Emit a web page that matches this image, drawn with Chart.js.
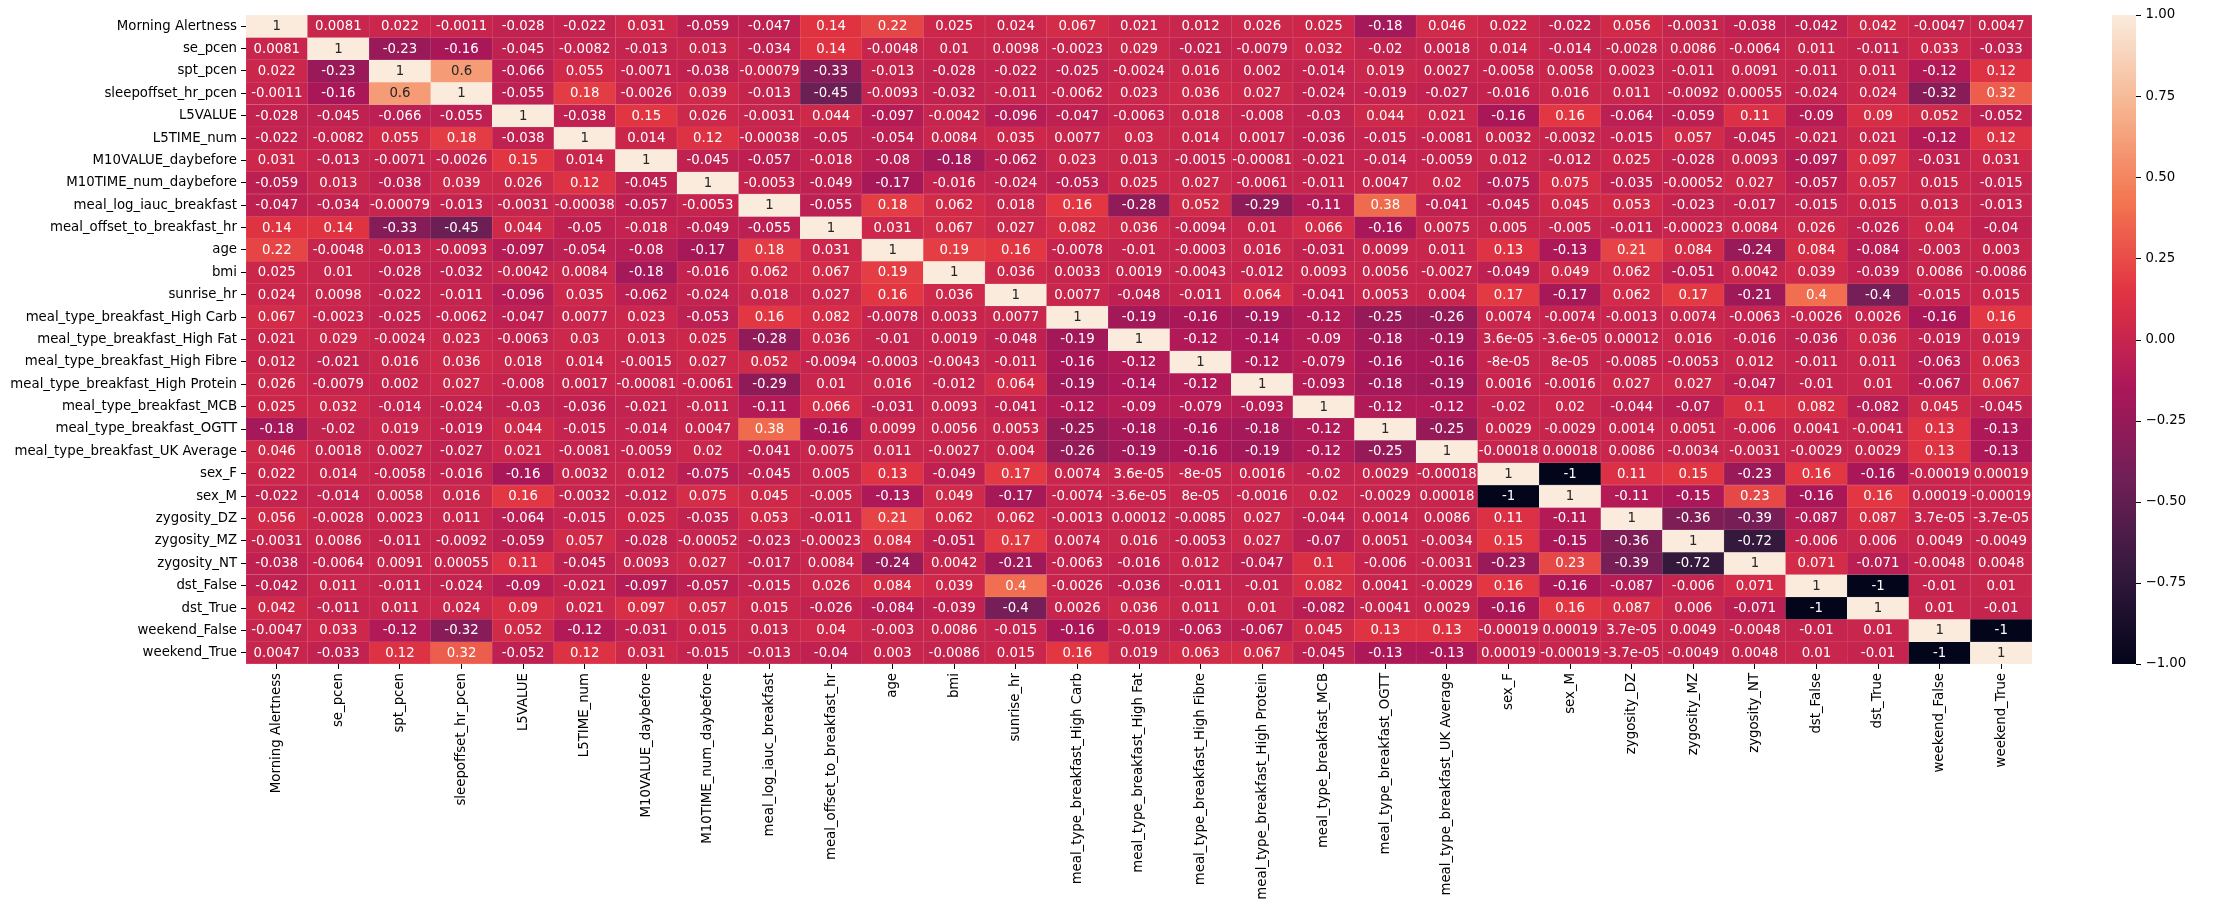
<!DOCTYPE html>
<html>
<head>
<meta charset="utf-8">
<script src="https://cdn.jsdelivr.net/npm/chart.js@4/dist/chart.umd.min.js"></script>
<style>
  html, body { margin: 0; padding: 0; background: #ffffff; }
  #c { display: block; }
</style>
</head>
<body>
<canvas id="c" width="2236" height="913" style="width:2236px;height:913px"></canvas>
<script>
// ---------------- DATA ----------------
const variables = [
  "Morning Alertness", "se_pcen", "spt_pcen", "sleepoffset_hr_pcen", "L5VALUE", "L5TIME_num",
  "M10VALUE_daybefore", "M10TIME_num_daybefore", "meal_log_iauc_breakfast", "meal_offset_to_breakfast_hr",
  "age", "bmi", "sunrise_hr", "meal_type_breakfast_High Carb", "meal_type_breakfast_High Fat",
  "meal_type_breakfast_High Fibre", "meal_type_breakfast_High Protein", "meal_type_breakfast_MCB",
  "meal_type_breakfast_OGTT", "meal_type_breakfast_UK Average", "sex_F", "sex_M", "zygosity_DZ",
  "zygosity_MZ", "zygosity_NT", "dst_False", "dst_True", "weekend_False", "weekend_True"
];

const morningAlertness = [1, 0.0081, 0.022, -0.0011, -0.028, -0.022, 0.031, -0.059, -0.047, 0.14, 0.22, 0.025, 0.024, 0.067, 0.021, 0.012, 0.026, 0.025, -0.18, 0.046, 0.022, -0.022, 0.056, -0.0031, -0.038, -0.042, 0.042, -0.0047, 0.0047];
const sePcen = [0.0081, 1, -0.23, -0.16, -0.045, -0.0082, -0.013, 0.013, -0.034, 0.14, -0.0048, 0.01, 0.0098, -0.0023, 0.029, -0.021, -0.0079, 0.032, -0.02, 0.0018, 0.014, -0.014, -0.0028, 0.0086, -0.0064, 0.011, -0.011, 0.033, -0.033];
const sptPcen = [0.022, -0.23, 1, 0.6, -0.066, 0.055, -0.0071, -0.038, -0.00079, -0.33, -0.013, -0.028, -0.022, -0.025, -0.0024, 0.016, 0.002, -0.014, 0.019, 0.0027, -0.0058, 0.0058, 0.0023, -0.011, 0.0091, -0.011, 0.011, -0.12, 0.12];
const sleepoffsetHrPcen = [-0.0011, -0.16, 0.6, 1, -0.055, 0.18, -0.0026, 0.039, -0.013, -0.45, -0.0093, -0.032, -0.011, -0.0062, 0.023, 0.036, 0.027, -0.024, -0.019, -0.027, -0.016, 0.016, 0.011, -0.0092, 0.00055, -0.024, 0.024, -0.32, 0.32];
const l5Value = [-0.028, -0.045, -0.066, -0.055, 1, -0.038, 0.15, 0.026, -0.0031, 0.044, -0.097, -0.0042, -0.096, -0.047, -0.0063, 0.018, -0.008, -0.03, 0.044, 0.021, -0.16, 0.16, -0.064, -0.059, 0.11, -0.09, 0.09, 0.052, -0.052];
const l5TimeNum = [-0.022, -0.0082, 0.055, 0.18, -0.038, 1, 0.014, 0.12, -0.00038, -0.05, -0.054, 0.0084, 0.035, 0.0077, 0.03, 0.014, 0.0017, -0.036, -0.015, -0.0081, 0.0032, -0.0032, -0.015, 0.057, -0.045, -0.021, 0.021, -0.12, 0.12];
const m10ValueDaybefore = [0.031, -0.013, -0.0071, -0.0026, 0.15, 0.014, 1, -0.045, -0.057, -0.018, -0.08, -0.18, -0.062, 0.023, 0.013, -0.0015, -0.00081, -0.021, -0.014, -0.0059, 0.012, -0.012, 0.025, -0.028, 0.0093, -0.097, 0.097, -0.031, 0.031];
const m10TimeNumDaybefore = [-0.059, 0.013, -0.038, 0.039, 0.026, 0.12, -0.045, 1, -0.0053, -0.049, -0.17, -0.016, -0.024, -0.053, 0.025, 0.027, -0.0061, -0.011, 0.0047, 0.02, -0.075, 0.075, -0.035, -0.00052, 0.027, -0.057, 0.057, 0.015, -0.015];
const mealLogIaucBreakfast = [-0.047, -0.034, -0.00079, -0.013, -0.0031, -0.00038, -0.057, -0.0053, 1, -0.055, 0.18, 0.062, 0.018, 0.16, -0.28, 0.052, -0.29, -0.11, 0.38, -0.041, -0.045, 0.045, 0.053, -0.023, -0.017, -0.015, 0.015, 0.013, -0.013];
const mealOffsetToBreakfastHr = [0.14, 0.14, -0.33, -0.45, 0.044, -0.05, -0.018, -0.049, -0.055, 1, 0.031, 0.067, 0.027, 0.082, 0.036, -0.0094, 0.01, 0.066, -0.16, 0.0075, 0.005, -0.005, -0.011, -0.00023, 0.0084, 0.026, -0.026, 0.04, -0.04];
const age = [0.22, -0.0048, -0.013, -0.0093, -0.097, -0.054, -0.08, -0.17, 0.18, 0.031, 1, 0.19, 0.16, -0.0078, -0.01, -0.0003, 0.016, -0.031, 0.0099, 0.011, 0.13, -0.13, 0.21, 0.084, -0.24, 0.084, -0.084, -0.003, 0.003];
const bmi = [0.025, 0.01, -0.028, -0.032, -0.0042, 0.0084, -0.18, -0.016, 0.062, 0.067, 0.19, 1, 0.036, 0.0033, 0.0019, -0.0043, -0.012, 0.0093, 0.0056, -0.0027, -0.049, 0.049, 0.062, -0.051, 0.0042, 0.039, -0.039, 0.0086, -0.0086];
const sunriseHr = [0.024, 0.0098, -0.022, -0.011, -0.096, 0.035, -0.062, -0.024, 0.018, 0.027, 0.16, 0.036, 1, 0.0077, -0.048, -0.011, 0.064, -0.041, 0.0053, 0.004, 0.17, -0.17, 0.062, 0.17, -0.21, 0.4, -0.4, -0.015, 0.015];
const highCarb = [0.067, -0.0023, -0.025, -0.0062, -0.047, 0.0077, 0.023, -0.053, 0.16, 0.082, -0.0078, 0.0033, 0.0077, 1, -0.19, -0.16, -0.19, -0.12, -0.25, -0.26, 0.0074, -0.0074, -0.0013, 0.0074, -0.0063, -0.0026, 0.0026, -0.16, 0.16];
const highFat = [0.021, 0.029, -0.0024, 0.023, -0.0063, 0.03, 0.013, 0.025, -0.28, 0.036, -0.01, 0.0019, -0.048, -0.19, 1, -0.12, -0.14, -0.09, -0.18, -0.19, 3.6e-05, -3.6e-05, 0.00012, 0.016, -0.016, -0.036, 0.036, -0.019, 0.019];
const highFibre = [0.012, -0.021, 0.016, 0.036, 0.018, 0.014, -0.0015, 0.027, 0.052, -0.0094, -0.0003, -0.0043, -0.011, -0.16, -0.12, 1, -0.12, -0.079, -0.16, -0.16, -8e-05, 8e-05, -0.0085, -0.0053, 0.012, -0.011, 0.011, -0.063, 0.063];
const highProtein = [0.026, -0.0079, 0.002, 0.027, -0.008, 0.0017, -0.00081, -0.0061, -0.29, 0.01, 0.016, -0.012, 0.064, -0.19, -0.14, -0.12, 1, -0.093, -0.18, -0.19, 0.0016, -0.0016, 0.027, 0.027, -0.047, -0.01, 0.01, -0.067, 0.067];
const mcb = [0.025, 0.032, -0.014, -0.024, -0.03, -0.036, -0.021, -0.011, -0.11, 0.066, -0.031, 0.0093, -0.041, -0.12, -0.09, -0.079, -0.093, 1, -0.12, -0.12, -0.02, 0.02, -0.044, -0.07, 0.1, 0.082, -0.082, 0.045, -0.045];
const ogtt = [-0.18, -0.02, 0.019, -0.019, 0.044, -0.015, -0.014, 0.0047, 0.38, -0.16, 0.0099, 0.0056, 0.0053, -0.25, -0.18, -0.16, -0.18, -0.12, 1, -0.25, 0.0029, -0.0029, 0.0014, 0.0051, -0.006, 0.0041, -0.0041, 0.13, -0.13];
const ukAverage = [0.046, 0.0018, 0.0027, -0.027, 0.021, -0.0081, -0.0059, 0.02, -0.041, 0.0075, 0.011, -0.0027, 0.004, -0.26, -0.19, -0.16, -0.19, -0.12, -0.25, 1, -0.00018, 0.00018, 0.0086, -0.0034, -0.0031, -0.0029, 0.0029, 0.13, -0.13];
const sexF = [0.022, 0.014, -0.0058, -0.016, -0.16, 0.0032, 0.012, -0.075, -0.045, 0.005, 0.13, -0.049, 0.17, 0.0074, 3.6e-05, -8e-05, 0.0016, -0.02, 0.0029, -0.00018, 1, -1, 0.11, 0.15, -0.23, 0.16, -0.16, -0.00019, 0.00019];
const sexM = [-0.022, -0.014, 0.0058, 0.016, 0.16, -0.0032, -0.012, 0.075, 0.045, -0.005, -0.13, 0.049, -0.17, -0.0074, -3.6e-05, 8e-05, -0.0016, 0.02, -0.0029, 0.00018, -1, 1, -0.11, -0.15, 0.23, -0.16, 0.16, 0.00019, -0.00019];
const zygosityDZ = [0.056, -0.0028, 0.0023, 0.011, -0.064, -0.015, 0.025, -0.035, 0.053, -0.011, 0.21, 0.062, 0.062, -0.0013, 0.00012, -0.0085, 0.027, -0.044, 0.0014, 0.0086, 0.11, -0.11, 1, -0.36, -0.39, -0.087, 0.087, 3.7e-05, -3.7e-05];
const zygosityMZ = [-0.0031, 0.0086, -0.011, -0.0092, -0.059, 0.057, -0.028, -0.00052, -0.023, -0.00023, 0.084, -0.051, 0.17, 0.0074, 0.016, -0.0053, 0.027, -0.07, 0.0051, -0.0034, 0.15, -0.15, -0.36, 1, -0.72, -0.006, 0.006, 0.0049, -0.0049];
const zygosityNT = [-0.038, -0.0064, 0.0091, 0.00055, 0.11, -0.045, 0.0093, 0.027, -0.017, 0.0084, -0.24, 0.0042, -0.21, -0.0063, -0.016, 0.012, -0.047, 0.1, -0.006, -0.0031, -0.23, 0.23, -0.39, -0.72, 1, 0.071, -0.071, -0.0048, 0.0048];
const dstFalse = [-0.042, 0.011, -0.011, -0.024, -0.09, -0.021, -0.097, -0.057, -0.015, 0.026, 0.084, 0.039, 0.4, -0.0026, -0.036, -0.011, -0.01, 0.082, 0.0041, -0.0029, 0.16, -0.16, -0.087, -0.006, 0.071, 1, -1, -0.01, 0.01];
const dstTrue = [0.042, -0.011, 0.011, 0.024, 0.09, 0.021, 0.097, 0.057, 0.015, -0.026, -0.084, -0.039, -0.4, 0.0026, 0.036, 0.011, 0.01, -0.082, -0.0041, 0.0029, -0.16, 0.16, 0.087, 0.006, -0.071, -1, 1, 0.01, -0.01];
const weekendFalse = [-0.0047, 0.033, -0.12, -0.32, 0.052, -0.12, -0.031, 0.015, 0.013, 0.04, -0.003, 0.0086, -0.015, -0.16, -0.019, -0.063, -0.067, 0.045, 0.13, 0.13, -0.00019, 0.00019, 3.7e-05, 0.0049, -0.0048, -0.01, 0.01, 1, -1];
const weekendTrue = [0.0047, -0.033, 0.12, 0.32, -0.052, 0.12, 0.031, -0.015, -0.013, -0.04, 0.003, -0.0086, 0.015, 0.16, 0.019, 0.063, 0.067, -0.045, -0.13, -0.13, 0.00019, -0.00019, -3.7e-05, -0.0049, 0.0048, 0.01, -0.01, -1, 1];

const colorbarTicks = [1, 0.75, 0.5, 0.25, 0, -0.25, -0.5, -0.75, -1];

const rows = [
  morningAlertness, sePcen, sptPcen, sleepoffsetHrPcen, l5Value, l5TimeNum, m10ValueDaybefore,
  m10TimeNumDaybefore, mealLogIaucBreakfast, mealOffsetToBreakfastHr, age, bmi, sunriseHr,
  highCarb, highFat, highFibre, highProtein, mcb, ogtt, ukAverage, sexF, sexM, zygosityDZ,
  zygosityMZ, zygosityNT, dstFalse, dstTrue, weekendFalse, weekendTrue
];

// ---------------- STYLE HELPERS ----------------
const FONT = "'DejaVu Sans', 'Liberation Sans', sans-serif";
const VMIN = -1, VMAX = 1;
// seaborn "rocket" colormap anchors
const rocket = [
  [0.0,      [3, 5, 26]],
  [1 / 7,    [53, 25, 62]],
  [2 / 7,    [112, 31, 87]],
  [3 / 7,    [173, 23, 89]],
  [4 / 7,    [225, 51, 66]],
  [5 / 7,    [243, 118, 81]],
  [6 / 7,    [246, 180, 143]],
  [1.0,      [250, 235, 221]]
];
function rocketRGB(t) {
  t = Math.max(0, Math.min(1, t));
  for (let k = 0; k < rocket.length - 1; k++) {
    const [t0, c0] = rocket[k], [t1, c1] = rocket[k + 1];
    if (t <= t1) {
      const f = (t - t0) / (t1 - t0);
      return c0.map((c, i) => c + (c1[i] - c) * f);
    }
  }
  return rocket[rocket.length - 1][1];
}
function valueRGB(v) { return rocketRGB((v - VMIN) / (VMAX - VMIN)); }
function rgbStr(c) { return `rgb(${c.map(Math.round).join(',')})`; }
function luminance(c) {
  const lin = c.map(x => { x /= 255; return x <= 0.03928 ? x / 12.92 : Math.pow((x + 0.055) / 1.055, 2.4); });
  return 0.2126 * lin[0] + 0.7152 * lin[1] + 0.0722 * lin[2];
}
function fmt2g(v) {
  if (v === 0) return '0';
  const a = Math.abs(v);
  const e = Math.floor(Math.log10(Number(a.toPrecision(2))));
  if (e < -4 || e >= 2) {
    let [m, ex] = v.toExponential(1).split('e');
    if (m.includes('.')) m = m.replace(/\.?0+$/, '');
    const sign = ex[0] === '-' ? '-' : '+';
    let d = ex.replace(/^[+-]/, '');
    if (d.length < 2) d = '0' + d;
    return m + 'e' + sign + d;
  }
  let s = v.toPrecision(2);
  if (s.includes('.')) s = s.replace(/\.?0+$/, '');
  return s;
}

// ---------------- PLUGINS ----------------
const annotatePlugin = {
  id: 'annotate',
  afterDatasetsDraw(chart) {
    const ctx = chart.ctx;
    ctx.save();
    ctx.font = `13.3px ${FONT}`;
    ctx.textAlign = 'center';
    ctx.textBaseline = 'middle';
    chart.data.datasets.forEach((ds, i) => {
      const meta = chart.getDatasetMeta(i);
      meta.data.forEach((el, j) => {
        const v = rows[i][j];
        const p = el.getProps(['x', 'y', 'base'], true);
        const c = valueRGB(v);
        ctx.fillStyle = luminance(c) > 0.408 ? '#262626' : '#ffffff';
        ctx.fillText(fmt2g(v), p.x, (p.y + p.base) / 2 + 0.5);
      });
    });
    ctx.restore();
  }
};

const CB_PAD = 80, CB_WIDTH = 24;
const colorbarPlugin = {
  id: 'colorbar',
  afterDraw(chart) {
    const ctx = chart.ctx;
    const area = chart.chartArea;
    const h = area.bottom - area.top;
    const w = CB_WIDTH;
    const x0 = area.right + CB_PAD;
    const top = area.top, bottom = area.bottom;
    const g = ctx.createLinearGradient(0, bottom, 0, top);
    const N = 64;
    for (let k = 0; k <= N; k++) g.addColorStop(k / N, rgbStr(rocketRGB(k / N)));
    ctx.save();
    ctx.fillStyle = g;
    ctx.fillRect(x0, top, w, h);
    ctx.strokeStyle = '#000';
    ctx.lineWidth = 1;
    ctx.fillStyle = '#000';
    ctx.font = `13.3px ${FONT}`;
    ctx.textAlign = 'left';
    ctx.textBaseline = 'middle';
    colorbarTicks.forEach(t => {
      const y = bottom - (t - VMIN) / (VMAX - VMIN) * h;
      const yy = Math.round(y) + 0.5;
      ctx.beginPath();
      ctx.moveTo(x0 + w, yy);
      ctx.lineTo(x0 + w + 5, yy);
      ctx.stroke();
      const label = t.toFixed(2).replace('-', '\u2212');
      ctx.fillText(label, x0 + w + 9.5, y);
    });
    ctx.restore();
  }
};

// ---------------- CHART ----------------
const datasets = rows.map((r, i) => ({
  label: variables[i],
  data: r.map(() => [i, i + 1]),
  xAxisID: 'x',
  yAxisID: 'y',
  barPercentage: 1,
  categoryPercentage: 1,
  borderSkipped: false,
  borderWidth: 0.5,
  backgroundColor: ctx => rgbStr(valueRGB(rows[ctx.datasetIndex][ctx.dataIndex])),
  borderColor: ctx => {
    const c = valueRGB(rows[ctx.datasetIndex][ctx.dataIndex]);
    return rgbStr(c.map(x => x + (255 - x) * 0.22));
  }
}));

const tickFont = { family: FONT, size: 13.3 };
const tickGrid = { display: true, drawOnChartArea: false, drawTicks: true, tickLength: 5, tickColor: '#000', tickWidth: 1, offset: false };

new Chart(document.getElementById('c'), {
  type: 'bar',
  data: { labels: variables, datasets },
  options: {
    responsive: false,
    devicePixelRatio: 1,
    animation: false,
    events: [],
    layout: { padding: { top: 15, right: 204, bottom: 0, left: 0 } },
    plugins: { legend: { display: false }, tooltip: { enabled: false } },
    scales: {
      x: {
        type: 'category',
        labels: variables,
        offset: true,
        stacked: true,
        grid: tickGrid,
        border: { display: false },
        ticks: { autoSkip: false, maxRotation: 90, minRotation: 90, padding: 4, color: '#000', font: tickFont },
        afterFit: s => { s.height = 249; }
      },
      y: {
        type: 'linear',
        min: 0,
        max: variables.length,
        reverse: true,
        stacked: false,
        display: false
      },
      yl: {
        type: 'category',
        labels: variables,
        position: 'left',
        offset: true,
        grid: tickGrid,
        border: { display: false },
        ticks: { autoSkip: false, padding: 4, color: '#000', font: tickFont },
        afterFit: s => { s.width = 246; }
      }
    }
  },
  plugins: [annotatePlugin, colorbarPlugin]
});
</script>
</body>
</html>
